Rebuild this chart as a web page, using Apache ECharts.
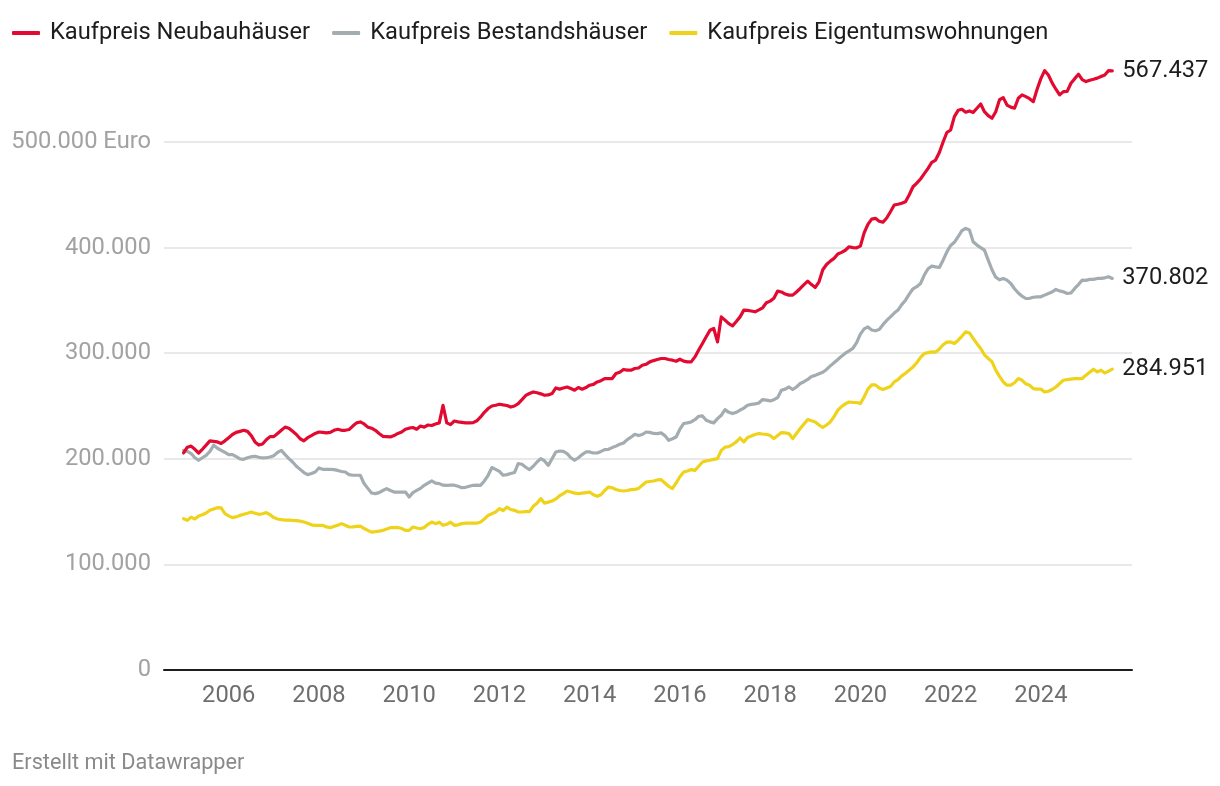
<!DOCTYPE html>
<html>
<head>
<meta charset="utf-8">
<script src="https://cdn.jsdelivr.net/npm/echarts@6/dist/echarts.min.js"></script>
<style>
html,body{margin:0;padding:0;background:#fff;}
#chart{width:1220px;height:786px;}
</style>
</head>
<body>
<div id="chart"></div>
<script>
// Monthly data, January 2005 to August 2025, values in thousand euro
const startYear = 2005;
const seriesNames = ['Kaufpreis Neubauhäuser', 'Kaufpreis Bestandshäuser', 'Kaufpreis Eigentumswohnungen'];
const yearTicks = [2006, 2008, 2010, 2012, 2014, 2016, 2018, 2020, 2022, 2024];
const yTicks = [0, 100000, 200000, 300000, 400000, 500000];

const neubau = [
  205.5, 211, 212, 209, 205.5, 209, 213, 217, 216.5, 216, 214.5, 217,
  220, 223, 225, 226, 227, 226, 222, 216, 213, 214, 218, 221,
  221, 224, 227, 230, 229, 226, 223, 219, 217, 220, 222, 224,
  225.4, 225, 224.5, 225, 227, 228, 227, 227, 227.7, 231, 234, 234.9,
  233, 230, 229, 227, 224, 221.3, 221, 220.7, 222, 224, 225.4, 228,
  229, 229.6, 228, 231, 230, 232, 231.5, 233, 234, 250.7, 234, 232.4,
  235.8, 235, 234.5, 234, 234, 234.3, 236, 239.6, 244, 247.6, 250, 250.7,
  251.7, 251, 250.5, 249, 250, 252.3, 256, 260, 261.8, 263.3, 262.5, 261.5,
  260.2, 260.5, 261.8, 267.1, 266, 267, 268, 266.5, 265, 267.5, 265.9, 267.5,
  269.7, 270.5, 272.8, 274, 276, 276, 276, 280.8, 282, 284.6, 284, 283.9,
  285.5, 286, 288.6, 289.5, 291.8, 293, 294, 295, 295, 294, 293.4, 292.4,
  294.3, 292.5, 291.8, 291.8, 296.5, 303, 309.2, 315.5, 321.8, 323.4, 310.7, 334.4,
  331.3, 328, 325.9, 330, 334.4, 340.8, 340.5, 340, 339.2, 341, 343, 347.7,
  349.3, 352, 358.8, 358, 356, 355, 355, 358, 361.3, 365, 368.3, 365,
  362.3, 367.6, 379, 384, 387.2, 389.8, 393.9, 395.5, 397.5, 400.8, 400, 399.8,
  401.4, 414, 422, 427, 427.7, 425, 424, 428, 434, 440.3, 441, 442,
  443.4, 450, 457.6, 461, 465, 470, 475, 480.8, 482.9, 490, 500, 509,
  511.4, 524, 530, 531, 528.2, 529.4, 528, 532, 536, 528.7, 525, 522.5,
  528.7, 540, 542, 535, 533, 532, 541.4, 544.6, 543, 541, 538.2, 550,
  560, 567.6, 563.5, 556, 550, 544.6, 547.7, 548, 555.6, 560, 564.2, 559,
  557.2, 558.5, 559.4, 560.5, 562, 563.5, 567.6, 567.437
];

const bestand = [
  208, 207, 205, 201, 198.6, 201, 203.3, 207, 212.8, 210, 208, 206,
  204, 204, 202, 200, 199.5, 201, 202, 202.4, 201.5, 200.8, 201, 201.7,
  203, 206, 208, 204, 200.2, 197, 193, 190, 187, 185, 186, 187.5,
  191.3, 190, 190, 190, 189.8, 189, 188, 187.5, 185, 184.4, 184.4, 184.4,
  176.5, 172, 167.6, 167, 168, 170, 171.8, 170, 168.5, 168.5, 168.5, 168.5,
  163.8, 168, 170.1, 172, 174.9, 177, 179, 177, 176.5, 175, 174.9, 175,
  175, 174, 172.7, 173, 174, 174.9, 175, 174.9, 179, 184.4, 191.7, 190,
  188, 184.4, 185, 186, 187, 195.5, 194.8, 192, 189.8, 193, 197, 200.2,
  198, 193.8, 200, 206.5, 207.4, 207, 204.9, 201, 198.6, 201, 204, 206.5,
  206.5, 205.5, 205.5, 207, 208.7, 209, 210.6, 212, 213.8, 215, 218.2, 220.5,
  223.2, 222, 223, 225.4, 225, 224, 223.9, 224.5, 222, 217.5, 219, 220.7,
  228, 233.4, 234, 234.9, 237, 240.3, 240.6, 236.5, 235, 234, 238, 241.2,
  246.6, 244, 242.8, 244, 246, 248, 250.7, 251.5, 252, 252.9, 256.1, 255.5,
  254.8, 256, 258, 264.9, 266, 268, 265.6, 268, 271.3, 273, 275.1, 278,
  279, 280.5, 282, 284.6, 288, 291, 294, 297.2, 300, 302.2, 304.5, 310,
  318, 323, 324.9, 322, 321.2, 322.5, 327, 331, 334.4, 338, 340.8, 346,
  350.2, 356, 361, 363, 366, 374, 380, 382.5, 381.8, 381.2, 388.1, 396,
  402, 405, 410.3, 416, 418.2, 416.6, 405.5, 402.4, 400, 397.6, 388.1, 379,
  372, 369.5, 370.8, 369.2, 366, 361, 357, 354, 351.8, 352, 353, 353.4,
  353.4, 355, 356.6, 358, 360.4, 359, 358.1, 356.6, 357, 361.3, 365, 369.2,
  369, 369.9, 369.9, 370.8, 370.8, 371.4, 372.4, 370.802
];

const eigentum = [
  143.3, 141.7, 144.8, 143, 145.8, 147, 148.6, 151.2, 152.5, 153.7, 153.5, 148,
  146, 144.3, 145, 146.4, 147.5, 148.5, 149.6, 148.5, 147.4, 148, 149, 147,
  144.3, 143, 142.4, 142, 142, 141.7, 141.5, 141, 140.1, 139, 137.5, 137,
  137, 137, 135.5, 134.8, 136, 137, 138.6, 137, 135.4, 135.5, 136, 136.3,
  134, 132.2, 130.6, 131, 131.5, 132.2, 133.5, 134.8, 134.8, 135, 134, 132.2,
  132.2, 135.4, 134.5, 133.8, 135, 138, 140.1, 138.6, 140, 137, 138, 140,
  137, 137.5, 138.6, 139, 139, 139, 139, 140.1, 143, 146.4, 148, 149.6,
  152.8, 151, 154.3, 152, 151.2, 149.6, 149.6, 150, 150, 155, 158, 162.3,
  158, 159, 160, 162, 165, 167, 169.5, 168.5, 167.5, 167, 167.5, 168,
  168.5, 166, 164.5, 166, 170, 173.3, 172.5, 171, 170, 169.5, 170, 170.8,
  171, 172, 175, 178, 178.5, 179, 180, 180.3, 177.1, 174, 171.8, 177.1,
  183, 187.5, 188.5, 189.8, 189, 193, 197, 198, 198.6, 199.5, 200.2, 208,
  211, 211.5, 213.5, 216, 219.7, 216, 220.1, 221.5, 223, 223.9, 223.5, 223.2,
  222, 219.1, 222, 224.8, 224.5, 223.9, 219.1, 224, 228.6, 233, 237.2, 236,
  234.9, 232, 229.6, 232, 234.9, 240, 246, 249.5, 252, 253.8, 253.5, 253.3,
  252.3, 258.6, 266, 270, 270, 267, 265.6, 267, 268.5, 272.8, 275, 278.5,
  281, 284, 287, 291, 296, 299.7, 300.5, 301.2, 301, 304, 308, 310.5,
  310.7, 309.2, 312.3, 316, 320.2, 319.2, 314, 309, 304.5, 298.5, 295, 292,
  283.9, 278, 272.8, 269.7, 269.7, 272, 276, 274.4, 271, 269.7, 266.5, 266,
  266, 263.3, 264, 265.6, 268, 271.3, 274.4, 275, 275.5, 276, 276, 276,
  279.2, 282, 284.8, 282.3, 283.9, 281.3, 283, 284.951
];

const colors = ['#e30a31', '#a3acb1', '#efd31b'];
const FONT = 'Roboto';
const FS = 23.7;

function fmt(v) {
  return String(Math.round(v)).replace(/\B(?=(\d{3})+(?!\d))/g, '.');
}
function toPoints(arr) {
  return arr.map((v, i) => [startYear + i / 12, v * 1000]);
}

const chart = echarts.init(document.getElementById('chart'), null, {renderer: 'canvas'});
const seriesData = [neubau, bestand, eigentum];

chart.setOption({
  animation: false,
  backgroundColor: '#ffffff',
  textStyle: {fontFamily: FONT},
  color: colors,
  legend: {
    left: 12,
    top: 21,
    padding: 0,
    icon: 'roundRect',
    itemWidth: 28,
    itemHeight: 4,
    itemGap: 22,
    textStyle: {fontFamily: FONT, fontSize: FS, color: '#1d1d1d', padding: [0, 0, 0, 5]},
    data: seriesNames
  },
  grid: {left: 164, right: 88, top: 142, bottom: 116, containLabel: false},
  xAxis: {
    type: 'value',
    min: 2004.566,
    max: 2026.02,
    axisLine: {show: true, lineStyle: {color: '#1d1d1d', width: 2}},
    axisTick: {show: false},
    splitLine: {show: false},
    axisLabel: {
      customValues: yearTicks,
      formatter: v => String(Math.round(v)),
      fontFamily: FONT,
      fontSize: FS,
      color: '#6e6e6e',
      margin: 14
    }
  },
  yAxis: {
    type: 'value',
    min: 0,
    max: 500000,
    interval: 100000,
    axisLine: {show: false},
    axisTick: {show: false},
    splitLine: {show: true, lineStyle: {color: '#e2e2e2', width: 1.5}},
    axisLabel: {
      formatter: v => v === 500000 ? fmt(v) + ' Euro' : fmt(v),
      fontFamily: FONT,
      fontSize: FS,
      color: '#a2a2a2',
      margin: 13
    }
  },
  series: seriesData.map((arr, k) => ({
    name: seriesNames[k],
    type: 'line',
    data: toPoints(arr),
    showSymbol: false,
    symbol: 'none',
    clip: false,
    smooth: false,
    z: 10 - k,
    lineStyle: {width: 3.2, color: colors[k], join: 'round', cap: 'round'},
    itemStyle: {color: colors[k]},
    emphasis: {disabled: true},
    endLabel: {
      show: true,
      formatter: p => fmt(p.value[1]),
      fontFamily: FONT,
      fontSize: FS,
      color: '#1d1d1d',
      distance: 10
    }
  })),
  graphic: [{
    type: 'text',
    left: 12,
    top: 753,
    style: {text: 'Erstellt mit Datawrapper', fontFamily: FONT, fontSize: 21.7, fill: '#8a8a8a'}
  }]
});
</script>
</body>
</html>
